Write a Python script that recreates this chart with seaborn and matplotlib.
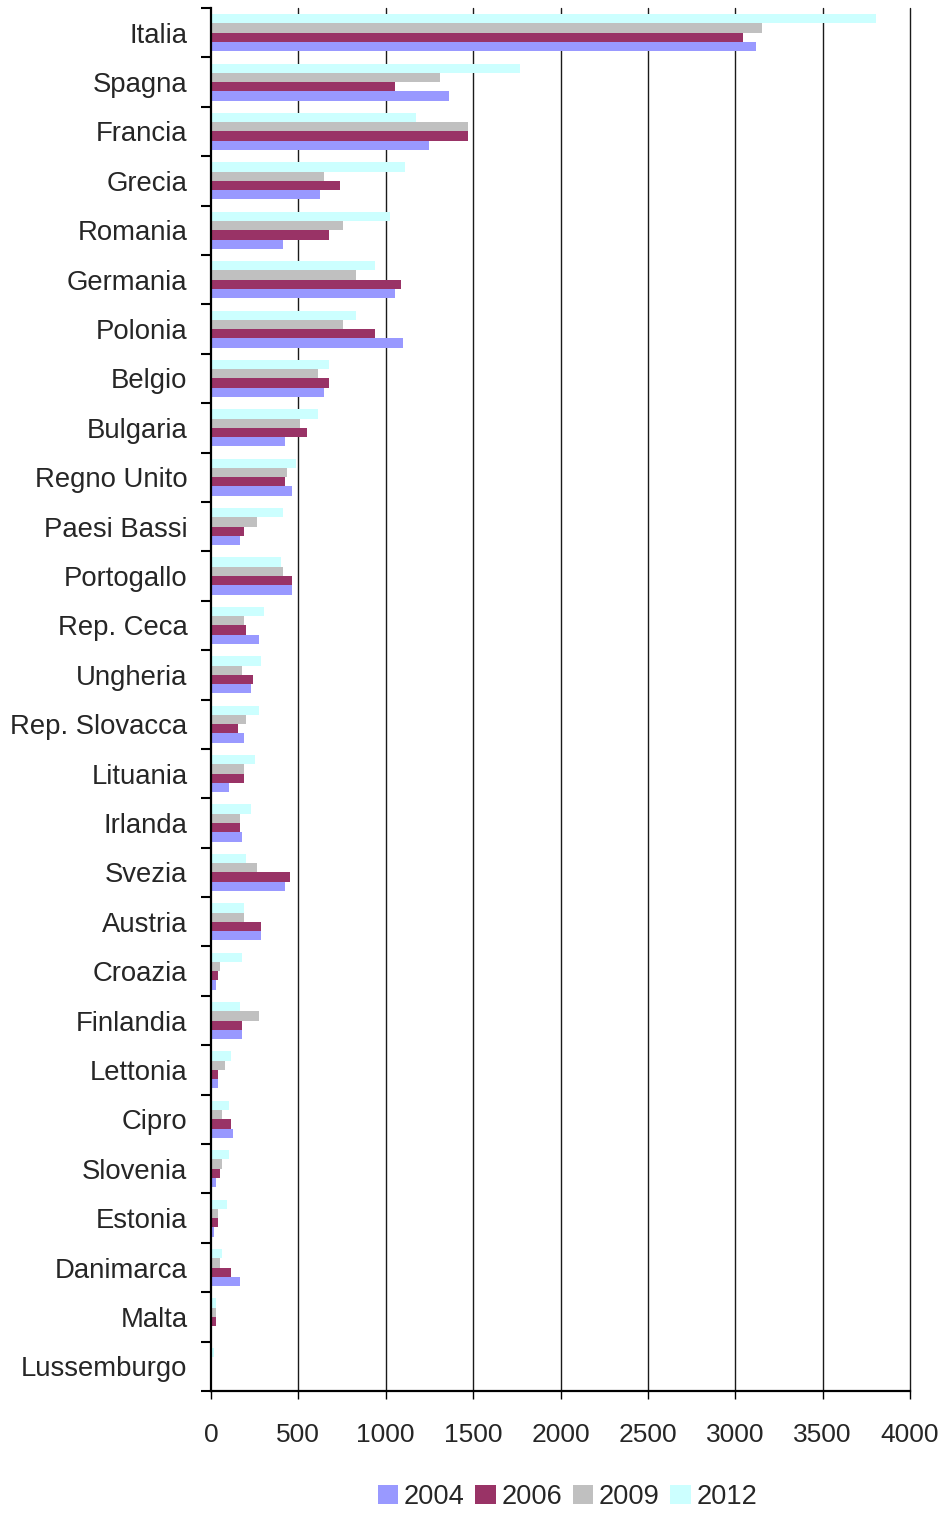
import matplotlib
matplotlib.use("Agg")
import matplotlib.pyplot as plt
from matplotlib.patches import Patch
from matplotlib.ticker import FixedLocator
import numpy as np
import pandas as pd
import seaborn as sns

paesi = ["Italia", "Spagna", "Francia", "Grecia", "Romania", "Germania", "Polonia",
         "Belgio", "Bulgaria", "Regno Unito", "Paesi Bassi", "Portogallo", "Rep. Ceca",
         "Ungheria", "Rep. Slovacca", "Lituania", "Irlanda", "Svezia", "Austria",
         "Croazia", "Finlandia", "Lettonia", "Cipro", "Slovenia", "Estonia",
         "Danimarca", "Malta", "Lussemburgo"]

v2004 = [3116, 1362, 1248, 626, 414, 1052, 1098, 649, 425, 466, 167, 466, 276, 230,
         190, 103, 178, 425, 287, 29, 178, 40, 126, 29, 17, 167, 1, 1]
v2006 = [3043, 1055, 1472, 736, 678, 1086, 937, 678, 552, 425, 190, 466, 201, 241,
         155, 190, 167, 454, 287, 40, 178, 40, 115, 52, 40, 115, 29, 1]
v2009 = [3155, 1312, 1472, 649, 753, 828, 753, 615, 511, 437, 264, 414, 190, 178,
         201, 190, 167, 264, 190, 52, 276, 80, 63, 63, 40, 52, 29, 1]
v2012 = [3805, 1767, 1174, 1109, 1023, 937, 828, 678, 615, 489, 414, 402, 305, 287,
         276, 253, 230, 201, 190, 178, 167, 115, 103, 103, 92, 63, 29, 17]

anni = ["2004", "2006", "2009", "2012"]
colori = {"2004": "#9999FF", "2006": "#993366", "2009": "#C0C0C0", "2012": "#CCFFFF"}
xticks = [0, 500, 1000, 1500, 2000, 2500, 3000, 3500, 4000]

serie = {"2004": v2004, "2006": v2006, "2009": v2009, "2012": v2012}
df = pd.concat(
    [pd.DataFrame({"paese": paesi, "anno": a, "valore": serie[a]}) for a in anni],
    ignore_index=True,
)

sns.set_style("white")
plt.rcParams["font.family"] = ["Liberation Sans", "DejaVu Sans"]

fig = plt.figure(figsize=(9.44, 15.13), dpi=100)
ax = fig.add_axes([211 / 944, 1 - 1391 / 1513, (910 - 211) / 944, (1391 - 8) / 1513])

sns.barplot(
    data=df, x="valore", y="paese", hue="anno",
    hue_order=["2012", "2009", "2006", "2004"], order=paesi,
    palette=colori, orient="h", width=0.75, saturation=1,
    linewidth=0, legend=False, ax=ax,
)

ax.set_xlim(0, 4000)
ax.set_ylim(len(paesi) - 0.5, -0.5)
ax.set_xticks(xticks)
ax.set_xticklabels([str(t) for t in xticks], fontsize=19)
ax.set_xlabel("")
ax.set_ylabel("")

# category names at group centres, tick marks at group boundaries
ax.set_yticks(range(len(paesi)))
ax.set_yticklabels(paesi, fontsize=19.8)
ax.tick_params(axis="y", which="major", length=0, pad=17)
ax.yaxis.set_minor_locator(FixedLocator(np.arange(-0.5, len(paesi), 1.0)))
ax.tick_params(axis="y", which="minor", length=7, width=1.5, color="black", left=True)
ax.tick_params(axis="x", which="major", length=6, width=1, color="black",
               bottom=True, pad=17)

ax.grid(False)
ax.set_axisbelow(True)
for t in xticks[1:]:
    ax.axvline(t, color="#1a1a1a", linewidth=1.0, zorder=0, clip_on=False)

for side in ("top", "right"):
    ax.spines[side].set_visible(False)
for side in ("left", "bottom"):
    ax.spines[side].set_color("black")
    ax.spines[side].set_linewidth(1.6)

handles = [Patch(facecolor=colori[a], edgecolor="none", label=a) for a in anni]
fig.legend(
    handles=handles, loc="center", bbox_to_anchor=(0.601, 1 - 1497 / 1513),
    ncol=4, frameon=False, fontsize=19.6, handlelength=0.75, handleheight=0.75,
    handletextpad=0.2, columnspacing=0.4,
)

fig.savefig("out.png", dpi=100)
